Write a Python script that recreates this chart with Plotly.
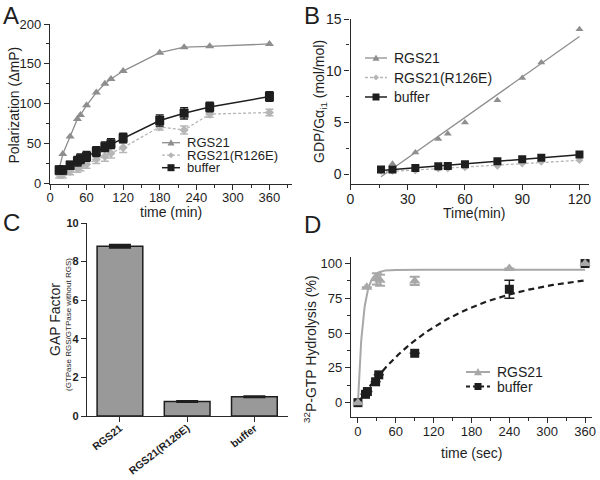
import numpy as np
import plotly.graph_objects as go

W, H = 600, 480
FONT = "Liberation Sans, Arial, sans-serif"
INK = "#1e1e1e"
GRAY = "#8e8e8e"
LIGHT = "#b6b6b6"
DGRAY = "#a8a8a8"

# ---------------- Panel A : polarization ----------------
a_time = [15, 21, 33, 45, 50, 60, 76, 90, 100, 120, 180, 220, 262, 360]
a_rgs21 = [18, 37, 59, 81, 86, 98, 114, 125, 131, 141, 164, 171, 172, 175]
a_r126e = [11, 11, 15, 19, 21, 24, 30, 34, 38, 45, 71, 67, 87, 89]
a_r126e_err = [4, 4, 4, 5, 5, 5, 5, 6, 6, 6, 4, 5, 4, 4]
a_buffer = [17, 17, 23, 28, 31, 34, 40, 46, 50, 57, 79, 88, 96, 109]
a_buffer_err = [5, 5, 5, 6, 6, 6, 6, 6, 6, 6, 7, 7, 6, 6]

# ---------------- Panel B : GDP / G alpha ----------------
b_time = [16, 22, 34, 46, 51, 60, 77, 90, 100, 120]
b_rgs21 = [0.3, 1.0, 2.1, 3.4, 3.9, 5.0, 7.15, 9.3, 10.8, 14.0]
b_r126e = [0.3, 0.3, 0.35, 0.55, 0.55, 0.65, 0.8, 1.03, 1.2, 1.35]
b_buffer = [0.45, 0.45, 0.6, 0.77, 0.8, 0.97, 1.26, 1.45, 1.58, 1.9]

# ---------------- Panel C : GAP factor ----------------
c_categories = ["RGS21", "RGS21(R126E)", "buffer"]
c_values = [8.8, 0.75, 1.0]
c_errors = [0.05, 0.0, 0.0]

# ---------------- Panel D : 32P-GTP hydrolysis ----------------
d_rgs21_time = [0, 14, 30, 35, 90, 240, 360]
d_rgs21 = [0, 83, 89, 88, 87.5, 96.5, 100]
d_rgs21_err = [0, 0, 4, 4, 3, 0, 0]
d_buffer_time = [0, 12, 15, 28, 33, 90, 240, 360]
d_buffer = [0, 6, 8, 15, 20, 35.5, 81.5, 100]
d_buffer_err = [0, 0, 0, 0, 0, 0, 6.5, 0]
# one-phase association fit parameters (plateau, rate per sec)
d_rgs21_fit = (95.5, 0.12)
d_buffer_fit = (95.6, 0.007)

fig = go.Figure()

# ---- A traces
fig.add_trace(go.Scatter(x=a_time, y=a_rgs21, mode="lines+markers", xaxis="x", yaxis="y",
                         line=dict(color=GRAY, width=1.3),
                         marker=dict(symbol="triangle-up", size=8, color=GRAY)))
fig.add_trace(go.Scatter(x=a_time, y=a_r126e, mode="lines+markers", xaxis="x", yaxis="y",
                         line=dict(color=LIGHT, width=1.3, dash="3px,2px"),
                         marker=dict(symbol="diamond", size=7, color=LIGHT),
                         error_y=dict(type="data", array=a_r126e_err, color=LIGHT, thickness=1.5, width=4)))
fig.add_trace(go.Scatter(x=a_time, y=a_buffer, mode="lines+markers", xaxis="x", yaxis="y",
                         line=dict(color=INK, width=1.5),
                         marker=dict(symbol="square", size=9, color=INK),
                         error_y=dict(type="data", array=a_buffer_err, color=INK, thickness=1.5, width=4)))


# ---- B traces (linear regression lines + points)
def linfit(t, v):
    k, b = np.polyfit(t, v, 1)
    xs = np.array([min(t), max(t)], dtype=float)
    return xs, k * xs + b


for vals, col, lw, dash, sym, ms in [
        (b_rgs21, GRAY, 1.3, "solid", "triangle-up", 7),
        (b_r126e, LIGHT, 1.3, "3px,2px", "diamond", 6),
        (b_buffer, INK, 1.5, "solid", "square", 8)]:
    xs, ys = linfit(b_time, vals)
    fig.add_trace(go.Scatter(x=xs, y=ys, mode="lines", xaxis="x2", yaxis="y2",
                             line=dict(color=col, width=lw, dash=dash)))
    fig.add_trace(go.Scatter(x=b_time, y=vals, mode="markers", xaxis="x2", yaxis="y2",
                             marker=dict(symbol=sym, size=ms, color=col)))

# ---- C bars
fig.add_trace(go.Bar(x=c_categories, y=c_values, xaxis="x3", yaxis="y3", width=0.68,
                     marker=dict(color="#999999", line=dict(color=INK, width=1.5)),
                     error_y=dict(type="data", array=c_errors, color=INK, thickness=3, width=11)))

# ---- D curves + points
t_fit = np.linspace(0, 360, 721)
for (plat, k), col, lw, dash in [(d_rgs21_fit, DGRAY, 2, "solid"), (d_buffer_fit, INK, 2.2, "6px,4px")]:
    fig.add_trace(go.Scatter(x=t_fit, y=plat * (1 - np.exp(-k * t_fit)), mode="lines",
                             xaxis="x4", yaxis="y4", line=dict(color=col, width=lw, dash=dash)))
fig.add_trace(go.Scatter(x=d_buffer_time, y=d_buffer, mode="markers", xaxis="x4", yaxis="y4",
                         marker=dict(symbol="square", size=9, color=INK),
                         error_y=dict(type="data", array=d_buffer_err, color=INK, thickness=1.5, width=5)))
fig.add_trace(go.Scatter(x=d_rgs21_time, y=d_rgs21, mode="markers", xaxis="x4", yaxis="y4",
                         marker=dict(symbol="triangle-up", size=10, color=DGRAY),
                         error_y=dict(type="data", array=d_rgs21_err, color=DGRAY, thickness=2, width=5)))


def axis(dom_px, rng, dtick, minor_dtick, fsize, vertical, **kw):
    if vertical:
        dom = [1 - dom_px[1] / H, 1 - dom_px[0] / H]
    else:
        dom = [dom_px[0] / W, dom_px[1] / W]
    d = dict(domain=dom, range=rng, showline=True, linecolor="#2a2a2a", linewidth=1.3,
             ticks="outside", ticklen=5, tickwidth=1.3, tickcolor="#2a2a2a",
             showgrid=False, zeroline=False, tick0=0, dtick=dtick, automargin=False,
             tickfont=dict(family=FONT, size=fsize, color=INK))
    if not vertical:
        d["ticklabelstandoff"] = -3
    if minor_dtick:
        d["minor"] = dict(ticks="outside", ticklen=3, tickwidth=1.2, tickcolor="#2a2a2a",
                          dtick=minor_dtick, tick0=0, showgrid=False)
    d.update(kw)
    return d


layout = dict(
    template="none",
    width=W, height=H, margin=dict(l=0, r=0, t=0, b=0, autoexpand=False),
    paper_bgcolor="white", plot_bgcolor="white", showlegend=False,
    font=dict(family=FONT, color=INK),
    xaxis=axis([50, 292], [0, 397], 60, 30, 13, False, anchor="y"),
    yaxis=axis([24, 183.5], [0, 200], 50, 25, 13, True, anchor="x"),
    xaxis2=axis([350.5, 589], [0, 125], 30, 15, 14, False, anchor="y2"),
    yaxis2=axis([19, 184], [-0.95, 15], 5, 2.5, 14, True, anchor="x2"),
    xaxis3=dict(domain=[87 / W, 288 / W], range=[-0.49, 2.5], showline=True, linecolor="#2a2a2a",
                linewidth=1.3, ticks="outside", ticklen=5, tickwidth=1.3, tickcolor="#2a2a2a",
                showgrid=False, zeroline=False, tickangle=-38, anchor="y3", automargin=False,
                ticklabelstandoff=-4,
                tickfont=dict(family=FONT, size=10.5, color=INK, weight="bold")),
    yaxis3=axis([223, 416], [0, 10], 2, None, 11, True, anchor="x3"),
    xaxis4=axis([351, 592], [-11, 371], 60, 30, 13, False, anchor="y4"),
    yaxis4=axis([257, 417], [-10.3, 104.7], 25, 12.5, 13, True, anchor="x4"),
)
layout["yaxis3"]["tickfont"]["weight"] = "bold"
fig.update_layout(**layout)


def add_text(text, x_px, y_px, size, angle=0, xanchor="center", yanchor="middle", **fkw):
    fig.add_annotation(text=text, x=x_px / W, y=1 - y_px / H, xref="paper", yref="paper",
                       xanchor=xanchor, yanchor=yanchor, showarrow=False, textangle=angle,
                       font=dict(family=FONT, size=size, color=INK, **fkw))


# ---- axis titles
add_text("Polarization (ΔmP)", 13.5, 105, 14, -90)
add_text("time (min)", 171, 212, 14)
add_text("GDP/Gα<sub>i1</sub> (mol/mol)", 320, 102, 14, -90)
add_text("Time(min)", 474, 213, 14)
add_text("GAP Factor", 55, 319, 14, -90)
add_text("(GTPase RGS/GTPase without RGS)", 68, 325, 8, -90)
add_text("<sup>32</sup>P-GTP Hydrolysis (%)", 310, 349, 14, -90)
add_text("time (sec)", 471.5, 453, 14)

# ---- panel letters
for letter, xp, yp in [("A", 1, 0), ("B", 302, 0), ("C", 1, 207), ("D", 302, 209)]:
    add_text(letter, xp, yp, 24, xanchor="left", yanchor="top")


# ---- legends (drawn keys)
def marker_path(symbol, s):
    r = s / 2
    if symbol == "triangle-up":
        return f"M{-r},{-r * 0.8} L{r},{-r * 0.8} L0,{r} Z"
    if symbol == "diamond":
        return f"M0,{-r} L{r},0 L0,{r} L{-r},0 Z"
    return f"M{-r},{-r} L{r},{-r} L{r},{r} L{-r},{r} Z"


def add_key(x_px, y_px, label, color, lw, dash, symbol, ms, fsize, line_len):
    y = 1 - y_px / H
    fig.add_shape(type="line", xref="paper", yref="paper", x0=x_px / W, x1=(x_px + line_len) / W,
                  y0=y, y1=y, line=dict(color=color, width=lw, dash=dash))
    fig.add_shape(type="path", xref="paper", yref="paper", xsizemode="pixel", ysizemode="pixel",
                  xanchor=(x_px + line_len / 2) / W, yanchor=y, path=marker_path(symbol, ms),
                  fillcolor=color, line=dict(width=0))
    add_text(label, x_px + line_len + 5, y_px, fsize, xanchor="left")


legend_a = [("RGS21", GRAY, 1.3, "solid", "triangle-up", 7),
            ("RGS21(R126E)", LIGHT, 1.3, "3px,2px", "diamond", 6),
            ("buffer", INK, 1.5, "solid", "square", 7)]
for i, (lab, col, lw, dash, sym, ms) in enumerate(legend_a):
    add_key(162, 142.7 + 12.5 * i, lab, col, lw, dash, sym, ms, 13, 18)
for i, (lab, col, lw, dash, sym, ms) in enumerate(legend_a):
    add_key(365, 58 + 19.5 * i, lab, col, lw, dash, sym, ms, 14, 22)
legend_d = [("RGS21", DGRAY, 2, "solid", "triangle-up", 8),
            ("buffer", INK, 2, "4px,3px", "square", 7)]
for i, (lab, col, lw, dash, sym, ms) in enumerate(legend_d):
    add_key(466, 372 + 14.5 * i, lab, col, lw, dash, sym, ms, 14, 24)

fig.write_html("out.html", config={"displayModeBar": False},
               post_script="document.body.style.margin='0px';")
